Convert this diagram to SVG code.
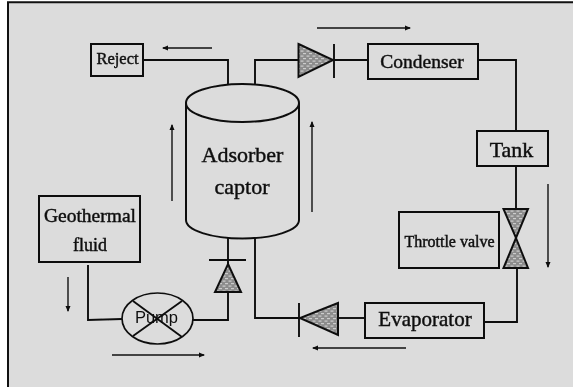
<svg xmlns="http://www.w3.org/2000/svg" width="573" height="387" viewBox="0 0 573 387">
<defs>
<filter id="soft" x="-5%" y="-5%" width="110%" height="110%" filterUnits="userSpaceOnUse" primitiveUnits="userSpaceOnUse"><feGaussianBlur stdDeviation="0.4"/></filter>
<marker id="ah" viewBox="0 0 6 6" refX="5" refY="3" markerWidth="6" markerHeight="6" orient="auto" markerUnits="userSpaceOnUse"><path d="M0 0.500L6 3L0 5.500z" fill="#111111"/></marker>
<pattern id="brick" width="6" height="5" patternUnits="userSpaceOnUse"><rect width="6" height="5" fill="#8c8c8c"/><rect x="0.500" y="0.500" width="3" height="1.200" fill="#cccccc"/><rect x="3" y="3" width="3" height="1.200" fill="#cccccc"/></pattern>
</defs>
<style>
.box{fill:none;stroke:#111111;stroke-width:2}
.w{fill:none;stroke:#111111;stroke-width:1.900}
.a{fill:none;stroke:#111111;stroke-width:1.400;marker-end:url(#ah)}
.v{fill:url(#brick);stroke:#111111;stroke-width:2}
text{font-family:"Liberation Serif","Times New Roman",serif;fill:#111111;stroke:#111111;stroke-width:0.45;text-anchor:middle}
g{filter:url(#soft)}
</style>
<rect width="573" height="387" fill="#ffffff"/>
<rect x="8" y="2" width="565" height="385" fill="#dcdcdc"/>
<path d="M8 387V2.200H573" fill="none" stroke="#111111" stroke-width="2"/>
<g id="connectors">
<path class="w" d="M143 60H228V85"/><path class="w" d="M255 85V60H299"/><path class="w" d="M334 60H368"/>
<path class="w" d="M478 60H516V131"/><path class="w" d="M516 166V209"/><path class="w" d="M517 268V322H484"/>
<path class="w" d="M365 318H338"/><path class="w" d="M299 318H255V238"/><path class="w" d="M228 238V264"/>
<path class="w" d="M228 292V320H193"/><path class="w" d="M122 319L88 320V265"/>
<path class="a" d="M212 48H163"/><path class="a" d="M317 28H410"/><path class="a" d="M172 201V125"/><path class="a" d="M312 212V122"/>
<path class="a" d="M548 184V267"/><path class="a" d="M68 277V311"/><path class="a" d="M112 355H204"/><path class="a" d="M406 348H313"/>
</g>
<g id="reject"><rect class="box" x="91" y="44" width="52" height="32"/><text x="117.500" y="64" font-size="16.500">Reject</text></g>
<g id="adsorber">
<path d="M186 103V220A56.500 18.500 0 0 0 299 220V103" fill="none" stroke="#111111" stroke-width="2"/>
<ellipse cx="242.500" cy="103" rx="56.500" ry="19" fill="none" stroke="#111111" stroke-width="2"/>
<text x="242.500" y="162" font-size="22">Adsorber</text><text x="242" y="194" font-size="22">captor</text>
</g>
<g id="valve-top"><path class="v" d="M298.500 44L333 60L298.500 77z"/><path class="w" d="M334 44V78"/></g>
<g id="condenser"><rect class="box" x="368" y="44" width="110" height="35"/><text x="422" y="68" font-size="19.500">Condenser</text></g>
<g id="tank"><rect class="box" x="477" y="131" width="71" height="35"/><text x="511.500" y="157" font-size="22">Tank</text></g>
<g id="throttle">
<rect class="box" x="399" y="212" width="100" height="56"/><text x="449.500" y="247" font-size="16">Throttle valve</text>
<path class="v" d="M503.500 209H528L516 238z"/><path class="v" d="M516 238L528 268H503.500z"/>
</g>
<g id="evaporator"><rect class="box" x="365" y="303" width="119" height="35"/><text x="425" y="326" font-size="21">Evaporator</text></g>
<g id="valve-bottom"><path class="v" d="M338 303L300 318L338 335z"/><path class="w" d="M299 303V337"/></g>
<g id="valve-left"><path class="v" d="M228 264L241 292H215z"/><path class="w" d="M209 260H246"/></g>
<g id="geothermal"><rect class="box" x="39" y="196" width="101" height="66"/><text x="90" y="222" font-size="19.500">Geothermal</text><text x="90" y="251" font-size="18">fluid</text></g>
<g id="pump"><ellipse cx="157.500" cy="318.500" rx="35.500" ry="25.500" fill="none" stroke="#111111" stroke-width="1.700"/><path class="w" d="M133 301L182 337M133 336L182 301"/><text x="156.500" y="323" font-size="16.500" style="font-family:'Liberation Sans',Arial,sans-serif;stroke:none">Pump</text></g>
</svg>
